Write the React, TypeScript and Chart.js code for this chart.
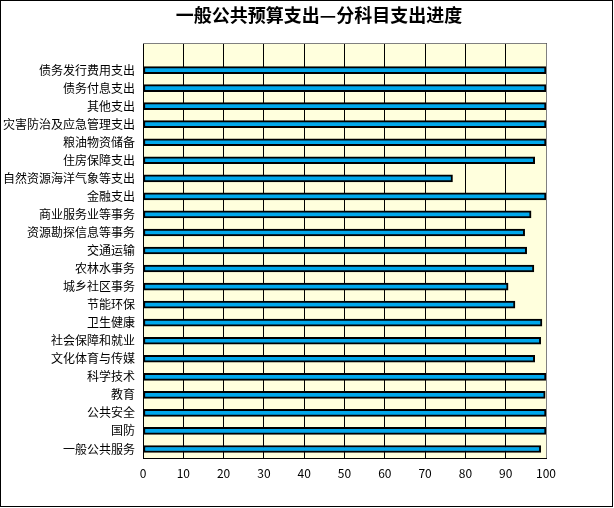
import React, { useEffect, useRef } from "react";
import { Chart, registerables } from "chart.js";

Chart.register(...registerables);

const TITLE = "一般公共预算支出—分科目支出进度";

// The first (top) category is an empty row in the source sheet.
const categories: string[] = [
  "",
  "债务发行费用支出",
  "债务付息支出",
  "其他支出",
  "灾害防治及应急管理支出",
  "粮油物资储备",
  "住房保障支出",
  "自然资源海洋气象等支出",
  "金融支出",
  "商业服务业等事务",
  "资源勘探信息等事务",
  "交通运输",
  "农林水事务",
  "城乡社区事务",
  "节能环保",
  "卫生健康",
  "社会保障和就业",
  "文化体育与传媒",
  "科学技术",
  "教育",
  "公共安全",
  "国防",
  "一般公共服务",
];

const progress: (number | null)[] = [
  null, 100, 100, 100, 100, 100, 97.2, 76.8, 100, 96.3, 94.7, 95.2, 97.0, 90.6,
  92.3, 99.0, 98.7, 97.2, 100, 99.8, 100, 100, 98.7,
];

const xMin = 0;
const xMax = 100;
const xStep = 10;

const FONT = '"Noto Sans CJK SC", "Noto Sans", sans-serif';

const framePlugin = {
  id: "framePlugin",
  beforeDraw(chart: any) {
    const { ctx, chartArea } = chart;
    ctx.save();
    ctx.fillStyle = "#FFFFDD";
    ctx.fillRect(
      chartArea.left,
      chartArea.top,
      chartArea.right - chartArea.left,
      chartArea.bottom - chartArea.top
    );
    ctx.restore();
  },
  beforeDatasetsDraw(chart: any) {
    const { ctx, chartArea } = chart;
    ctx.save();
    ctx.strokeStyle = "#808080";
    ctx.lineWidth = 1;
    ctx.beginPath();
    const t = Math.round(chartArea.top) + 0.5;
    const r = Math.round(chartArea.right) + 0.5;
    ctx.moveTo(chartArea.left, t);
    ctx.lineTo(r, t);
    ctx.lineTo(r, chartArea.bottom);
    ctx.stroke();
    ctx.restore();
  },
  afterDraw(chart: any) {
    const { ctx } = chart;
    ctx.save();
    ctx.strokeStyle = "#000";
    ctx.lineWidth = 1;
    ctx.strokeRect(0.5, 0.5, chart.width - 2, chart.height - 2);
    ctx.fillStyle = "#000";
    ctx.font = `bold 18px ${FONT}`;
    ctx.textAlign = "center";
    ctx.textBaseline = "middle";
    ctx.fillText(TITLE, 319, 15);
    ctx.restore();
  },
};

export default function App() {
  const ref = useRef<HTMLCanvasElement | null>(null);

  useEffect(() => {
    if (!ref.current) return;
    const chart = new Chart(ref.current, {
      type: "bar",
      data: {
        labels: categories,
        datasets: [
          {
            data: progress,
            backgroundColor: "#00A8EC",
            borderColor: "#000000",
            borderWidth: 2,
            borderSkipped: false,
            barThickness: 7,
          },
        ],
      },
      options: {
        indexAxis: "y",
        responsive: false,
        animation: false,
        layout: { padding: { left: 0, right: 68, top: 43, bottom: 0 } },
        plugins: {
          legend: { display: false },
          tooltip: { enabled: false },
          title: { display: false },
        },
        scales: {
          x: {
            type: "linear",
            min: xMin,
            max: xMax,
            ticks: {
              stepSize: xStep,
              color: "#000",
              font: { family: FONT, size: 12 },
              padding: 8,
              maxRotation: 0,
            },
            grid: {
              color: "#000",
              lineWidth: 1,
              drawTicks: false,
            },
            border: { display: true, color: "#000", width: 1 },
            afterFit: (s: any) => {
              s.height = 50;
            },
          },
          y: {
            type: "category",
            ticks: {
              color: "#000",
              font: { family: FONT, size: 12 },
              padding: 8,
              autoSkip: false,
            },
            grid: { display: false, drawTicks: false },
            border: { display: true, color: "#000", width: 1 },
            afterFit: (s: any) => {
              s.width = 143;
            },
          },
        },
      },
      plugins: [framePlugin],
    } as any);
    return () => chart.destroy();
  }, []);

  return (
    <div style={{ position: "fixed", left: 0, top: 0, width: 614, height: 508, background: "#fff" }}>
      <canvas ref={ref} width={614} height={508} style={{ width: 614, height: 508, display: "block" }} />
    </div>
  );
}
